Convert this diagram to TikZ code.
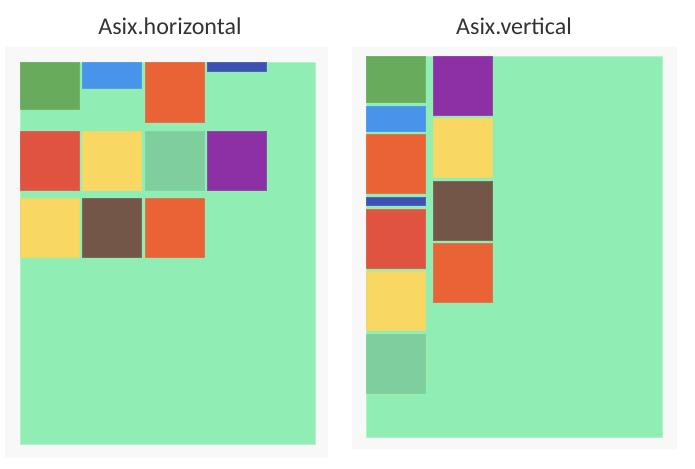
\documentclass[tikz,border=0pt]{standalone}
\usepackage{fontspec}
\setmainfont{Carlito}
\definecolor{panelgray}{HTML}{F8F8F8}
\definecolor{bggreen}{HTML}{90EEB4}
\definecolor{cgreen}{HTML}{68AB5C}
\definecolor{cblue}{HTML}{4993EA}
\definecolor{corange}{HTML}{EA6337}
\definecolor{cdarkblue}{HTML}{3F50B4}
\definecolor{cred}{HTML}{E05341}
\definecolor{cyellow}{HTML}{F8D862}
\definecolor{clightgreen}{HTML}{7ECF9D}
\definecolor{cpurple}{HTML}{8E30A5}
\definecolor{cbrown}{HTML}{745649}
\definecolor{titlegray}{HTML}{333333}
\tikzset{
  panel/.style={fill=panelgray, draw=none, anchor=north west, inner sep=0pt, outer sep=0pt},
  area/.style={fill=bggreen, draw=bggreen!70!white, line width=0.5pt, anchor=north west, inner sep=0pt, outer sep=0pt},
  tile/.style={fill=#1, draw=#1!85!bggreen, line width=0.6pt, anchor=north west, inner sep=0pt, outer sep=0pt, minimum width=59pt},
  ttl/.style={font=\fontsize{24}{28}\selectfont, text=titlegray, anchor=base, inner sep=0pt}
}
\begin{document}
\begin{tikzpicture}[x=1pt,y=-1pt]
\useasboundingbox (0,0) rectangle (695,468);
\fill[white] (0,0) rectangle (695,468);
% titles
\node[ttl] (th) at (170,35) {Asix.horizontal};
\node[ttl] (tv) at (514,35) {Asix.vertical};
% left panel
\node[panel, minimum width=323pt, minimum height=410.5pt] (lp) at (5,47) {};
\node[area, minimum width=295.5pt, minimum height=381.3pt] (la) at (20,62.7) {};
\node[tile=cgreen, minimum height=46.6pt] (h1) at (20,62.7) {};
\node[tile=cblue, minimum height=25.6pt] (h2) at (82.7,62.7) {};
\node[tile=corange, minimum height=59.6pt] (h3) at (145,62.7) {};
\node[tile=cdarkblue, minimum height=8.6pt] (h4) at (207.7,62.7) {};
\node[tile=cred, minimum height=59pt] (h5) at (20,131) {};
\node[tile=cyellow, minimum height=59pt] (h6) at (82.7,131) {};
\node[tile=clightgreen, minimum height=59pt] (h7) at (145,131) {};
\node[tile=cpurple, minimum height=59pt] (h8) at (207.7,131) {};
\node[tile=cyellow, minimum height=59pt] (h9) at (20,198.7) {};
\node[tile=cbrown, minimum height=59pt] (h10) at (82.7,198.7) {};
\node[tile=corange, minimum height=59pt] (h11) at (145,198.7) {};
% right panel
\node[panel, minimum width=325pt, minimum height=402pt] (rp) at (352,47) {};
\node[area, minimum width=296pt, minimum height=381pt] (ra) at (366,56) {};
\node[tile=cgreen, minimum height=46.3pt] (v1) at (366,56) {};
\node[tile=cblue, minimum height=25pt] (v2) at (366,106) {};
\node[tile=corange, minimum height=58.6pt] (v3) at (366,134.7) {};
\node[tile=cdarkblue, minimum height=8pt] (v4) at (366,197.3) {};
\node[tile=cred, minimum height=59pt] (v5) at (366,209) {};
\node[tile=cyellow, minimum height=59pt] (v6) at (366,271.7) {};
\node[tile=clightgreen, minimum height=59.3pt] (v7) at (366,334) {};
\node[tile=cpurple, minimum height=59pt] (v8) at (433.7,56) {};
\node[tile=cyellow, minimum height=58.6pt] (v9) at (433.7,118.7) {};
\node[tile=cbrown, minimum height=59pt] (v10) at (433.7,181) {};
\node[tile=corange, minimum height=59pt] (v11) at (433.7,243.7) {};
\end{tikzpicture}
\end{document}
